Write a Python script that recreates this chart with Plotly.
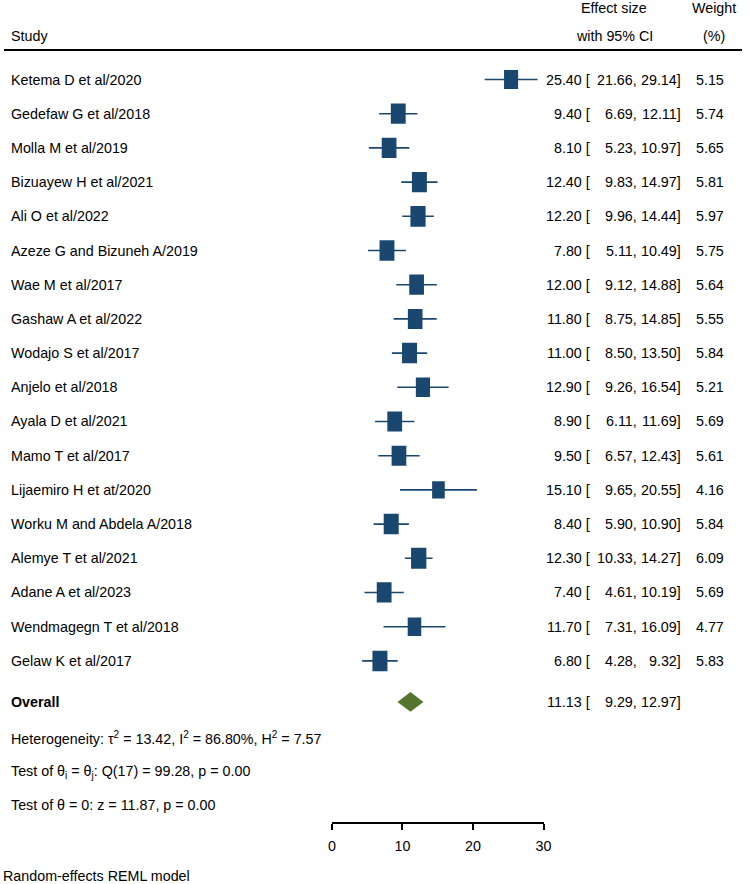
import plotly.graph_objects as go

studies = ["Ketema D et al/2020", "Gedefaw G et al/2018", "Molla M et al/2019",
           "Bizuayew H et al/2021", "Ali O et al/2022", "Azeze G and Bizuneh A/2019",
           "Wae M et al/2017", "Gashaw A et al/2022", "Wodajo S et al/2017",
           "Anjelo et al/2018", "Ayala D et al/2021", "Mamo T et al/2017",
           "Lijaemiro H et at/2020", "Worku M and Abdela A/2018", "Alemye T et al/2021",
           "Adane A et al/2023", "Wendmagegn T et al/2018", "Gelaw K et al/2017"]
es = [25.40, 9.40, 8.10, 12.40, 12.20, 7.80, 12.00, 11.80, 11.00,
      12.90, 8.90, 9.50, 15.10, 8.40, 12.30, 7.40, 11.70, 6.80]
lo = [21.66, 6.69, 5.23, 9.83, 9.96, 5.11, 9.12, 8.75, 8.50,
      9.26, 6.11, 6.57, 9.65, 5.90, 10.33, 4.61, 7.31, 4.28]
hi = [29.14, 12.11, 10.97, 14.97, 14.44, 10.49, 14.88, 14.85, 13.50,
      16.54, 11.69, 12.43, 20.55, 10.90, 14.27, 10.19, 16.09, 9.32]
weights = [5.15, 5.74, 5.65, 5.81, 5.97, 5.75, 5.64, 5.55, 5.84,
           5.21, 5.69, 5.61, 4.16, 5.84, 6.09, 5.69, 4.77, 5.83]

overall_es = 11.13
overall_lo = 9.29
overall_hi = 12.97

stats_lines = ["Heterogeneity: \u03c4<sup>2</sup> = 13.42, I<sup>2</sup> = 86.80%, H<sup>2</sup> = 7.57",
               "Test of \u03b8<sub>i</sub> = \u03b8<sub>j</sub>: Q(17) = 99.28, p = 0.00",
               "Test of \u03b8 = 0: z = 11.87, p = 0.00"]
tick_vals = [0, 10, 20, 30]

navy = "#1a476f"
green = "#55752f"
font = "Liberation Sans, Arial, sans-serif"
fs = 14.3

rows = list(range(len(studies)))
overall_row = 18.2
stats_rows = [19.25, 20.25, 21.2]

fig = go.Figure()

# CI lines
xs, ys = [], []
for r, a, b in zip(rows, lo, hi):
    xs += [a, b, None]
    ys += [r, r, None]
fig.add_trace(go.Scatter(x=xs, y=ys, mode="lines", line=dict(color=navy, width=1.6),
                         hoverinfo="skip", showlegend=False))

# weight squares
for r, e, w in zip(rows, es, weights):
    hw = 0.44 * w ** 0.5
    hh = 0.124 * w ** 0.5
    fig.add_shape(type="rect", xref="x", yref="y", x0=e - hw, x1=e + hw,
                  y0=r - hh, y1=r + hh, fillcolor=navy, line=dict(width=0))

# overall diamond
fig.add_shape(type="path", xref="x", yref="y",
              path=f"M {overall_lo},{overall_row} L {overall_es},{overall_row - 0.29} "
                   f"L {overall_hi},{overall_row} L {overall_es},{overall_row + 0.29} Z",
              fillcolor=green, line=dict(width=0))

# header line
fig.add_shape(type="line", xref="paper", yref="y", x0=0, x1=1, y0=-0.86, y1=-0.86,
              line=dict(color="black", width=2))


def txt(x, y, s, anchor="left", yref="y", bold=False):
    if bold:
        s = "<b>" + s + "</b>"
    fig.add_annotation(x=x, y=y, xref="paper", yref=yref, text=s, showarrow=False,
                       xanchor=anchor, yanchor="middle", borderpad=0,
                       font=dict(size=fs, color="black", family=font))


# headers
txt(6 / 750, -1.27, "Study")
txt(620 / 750, -2.09, "Effect size", "center")
txt(620 / 750, -1.27, "with 95% CI", "center")
txt(722 / 750, -2.09, "Weight", "center")
txt(722 / 750, -1.27, "(%)", "center")

col_es = 597 / 750
col_lo = 644 / 750
col_hi = 689 / 750
col_w = 733 / 750

for r, s, e, a, b, w in zip(rows, studies, es, lo, hi, weights):
    txt(6 / 750, r, s)
    txt(col_es, r, f"{e:.2f} [", "right")
    txt(col_lo, r, f"{a:.2f},", "right")
    txt(col_hi, r, f"{b:.2f}]", "right")
    txt(col_w, r, f"{w:.2f}", "right")

txt(6 / 750, overall_row, "Overall", bold=True)
txt(col_es, overall_row, f"{overall_es:.2f} [", "right")
txt(col_lo, overall_row, f"{overall_lo:.2f},", "right")
txt(col_hi, overall_row, f"{overall_hi:.2f}]", "right")

for r, s in zip(stats_rows, stats_lines):
    txt(6 / 750, r, s)

# footnote below the axis, outside the y range
txt(-2 / 750, 8 / 884, "Random-effects REML model", yref="paper")

fig.update_layout(
    width=750, height=884,
    margin=dict(l=0, r=0, t=0, b=0),
    paper_bgcolor="white", plot_bgcolor="white",
    font=dict(family=font, size=fs, color="black"),
    xaxis=dict(domain=[333.3 / 750, 548.3 / 750], range=[0, 30], tickvals=tick_vals,
               showline=True, linecolor="black", linewidth=1.5, ticks="outside",
               ticklen=6, tickwidth=1.5, tickcolor="black", showgrid=False, zeroline=False,
               ticklabelstandoff=4, tickfont=dict(size=fs, family=font)),
    yaxis=dict(domain=[62 / 884, 1], range=[21.711, -2.3246], visible=False),
    showlegend=False,
)

fig.write_html("out.html", config={"displayModeBar": False},
               post_script="document.body.style.margin = '0px';")
